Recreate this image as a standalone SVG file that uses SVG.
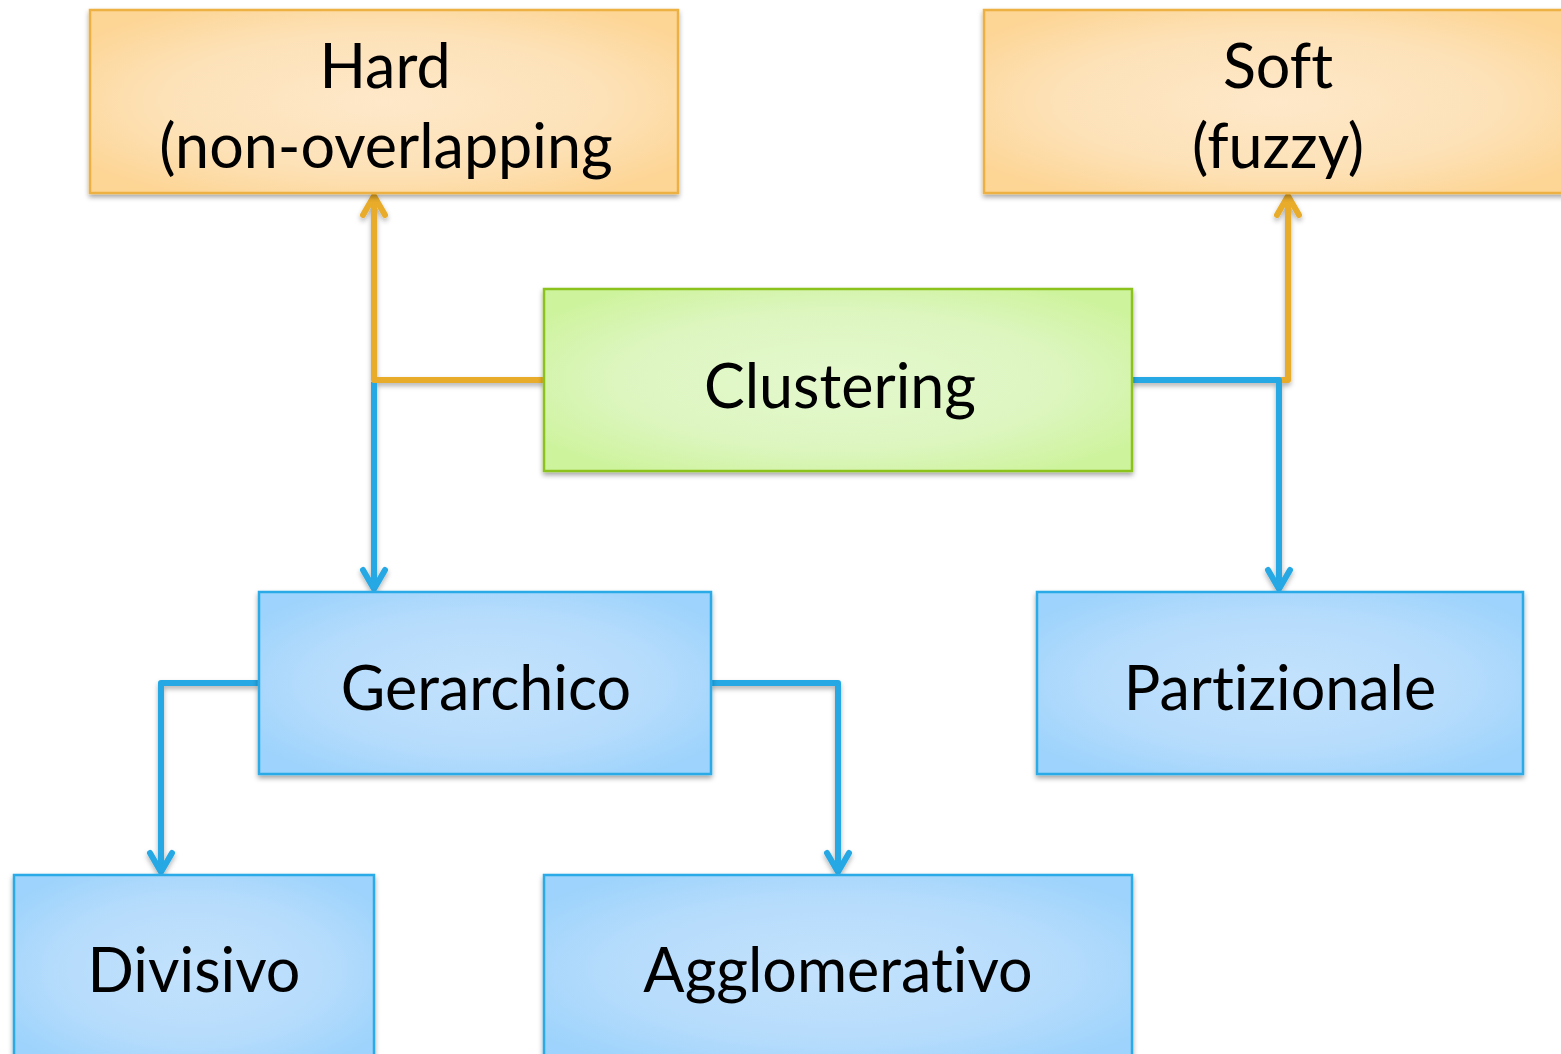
<svg xmlns="http://www.w3.org/2000/svg" width="1561" height="1054" viewBox="0 0 1561 1054">
  <defs>
    <radialGradient id="gOrange" cx="0.5" cy="0.5" r="0.62">
      <stop offset="0" stop-color="#FEE8C9"/>
      <stop offset="0.6" stop-color="#FDE2B8"/>
      <stop offset="1" stop-color="#FDD595"/>
    </radialGradient>
    <radialGradient id="gGreen" cx="0.5" cy="0.5" r="0.62">
      <stop offset="0" stop-color="#E4F8CD"/>
      <stop offset="0.6" stop-color="#DDF6C0"/>
      <stop offset="1" stop-color="#CDF39C"/>
    </radialGradient>
    <radialGradient id="gBlue" cx="0.5" cy="0.5" r="0.62">
      <stop offset="0" stop-color="#C3E2FC"/>
      <stop offset="0.6" stop-color="#B6DCFC"/>
      <stop offset="1" stop-color="#9DD3FC"/>
    </radialGradient>
    <!-- soft drop shadow for the boxes -->
    <filter id="shadow" x="-10%" y="-10%" width="120%" height="130%">
      <feDropShadow dx="0" dy="3" stdDeviation="2.5" flood-color="#000" flood-opacity="0.35"/>
    </filter>
    <!-- same shadow in user space, so straight segments keep a valid filter region -->
    <filter id="lineShadow" filterUnits="userSpaceOnUse" x="0" y="0" width="1561" height="1054">
      <feDropShadow dx="0" dy="3" stdDeviation="2.5" flood-color="#000" flood-opacity="0.3"/>
    </filter>
    <marker id="arrOrange" markerUnits="userSpaceOnUse" viewBox="-26 -18 30 36" refX="0" refY="0" markerWidth="30" markerHeight="36" orient="auto">
      <path d="M-19,-11 L0,0 L-19,11" fill="none" stroke="#E9AC2A" stroke-width="6" stroke-linecap="round" stroke-linejoin="round"/>
    </marker>
    <marker id="arrBlue" markerUnits="userSpaceOnUse" viewBox="-26 -18 30 36" refX="0" refY="0" markerWidth="30" markerHeight="36" orient="auto">
      <path d="M-19,-11 L0,0 L-19,11" fill="none" stroke="#27A8E4" stroke-width="6" stroke-linecap="round" stroke-linejoin="round"/>
    </marker>
  </defs>
  <style>
    .box { filter: url(#shadow); stroke-width: 2.5; }
    .orange { fill: url(#gOrange); stroke: #EDB042; }
    .green { fill: url(#gGreen); stroke: #8CC21E; }
    .blue { fill: url(#gBlue); stroke: #2AAAE6; }
    .label { font-family: Lato, "Open Sans", sans-serif; font-size: 61px; fill: #000; text-anchor: middle; font-variant-ligatures: none; }
    .conn { fill: none; stroke-width: 6; stroke-linejoin: round; }
    .co { stroke: #E9AC2A; }
    .cb { stroke: #27A8E4; }
  </style>

  <rect width="1561" height="1054" fill="#FFFFFF"/>

  <!-- connectors -->
  <g id="connectors" filter="url(#lineShadow)">
    <path class="conn cb" d="M374,382 V589" marker-end="url(#arrBlue)"/>
    <path class="conn co" d="M544,380 H374 V196" marker-end="url(#arrOrange)"/>
    <path class="conn co" d="M1132,380 H1288 V196" marker-end="url(#arrOrange)"/>
    <path class="conn cb" d="M1132,380 H1279 V589" marker-end="url(#arrBlue)"/>
    <path class="conn cb" d="M259,683 H161 V872" marker-end="url(#arrBlue)"/>
    <path class="conn cb" d="M711,683 H838 V872" marker-end="url(#arrBlue)"/>
  </g>

  <!-- nodes -->
  <g id="node-hard">
    <rect class="box orange" x="90" y="10" width="588" height="183"/>
    <text class="label" x="385" y="88">Hard</text>
    <text class="label" x="386" y="168">(non-overlapping</text>
  </g>
  <g id="node-soft">
    <rect class="box orange" x="984" y="10" width="588" height="183"/>
    <text class="label" x="1278" y="88">Soft</text>
    <text class="label" x="1278" y="168">(fuzzy)</text>
  </g>
  <g id="node-clustering">
    <rect class="box green" x="544" y="289" width="588" height="182"/>
    <text class="label" x="840" y="408">Clustering</text>
  </g>
  <g id="node-gerarchico">
    <rect class="box blue" x="259" y="592" width="452" height="182"/>
    <text class="label" x="486" y="710">Gerarchico</text>
  </g>
  <g id="node-partizionale">
    <rect class="box blue" x="1037" y="592" width="486" height="182"/>
    <text class="label" x="1280" y="710">Partizionale</text>
  </g>
  <g id="node-divisivo">
    <rect class="box blue" x="14" y="875" width="360" height="190"/>
    <text class="label" x="194" y="992">Divisivo</text>
  </g>
  <g id="node-agglomerativo">
    <rect class="box blue" x="544" y="875" width="588" height="190"/>
    <text class="label" x="838" y="992">Agglomerativo</text>
  </g>
</svg>
